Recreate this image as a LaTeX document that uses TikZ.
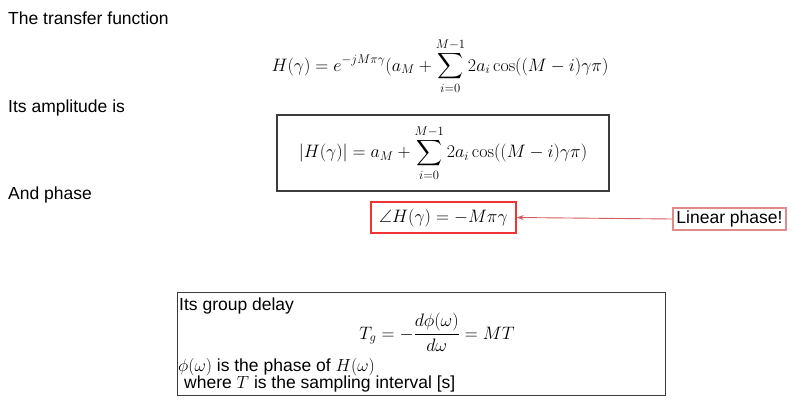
\RequirePackage{fix-cm}
\documentclass[tikz,border=0pt]{standalone}
\usepackage{amsmath, amssymb}
\usepackage[no-math]{fontspec}
\setmainfont{Liberation Sans}
\usepackage{tikz}
\usetikzlibrary{arrows.meta}
\definecolor{boxred}{HTML}{F03434}
\definecolor{pinkred}{HTML}{E28A8A}
\definecolor{arrowred}{HTML}{D35C5C}
\definecolor{boxgray}{HTML}{3C3C3C}
\tikzset{
  txt/.style={inner sep=0pt, font=\fontsize{17.5}{21}\selectfont},
  eqn/.style={inner sep=0pt, font=\fontsize{18}{21}\selectfont},
  eqbox/.style={draw=boxgray, line width=1.3pt, inner sep=0pt, font=\fontsize{18}{21}\selectfont},
  redbox/.style={draw=boxred, line width=1.4pt, inner sep=0pt, font=\fontsize{18}{21}\selectfont},
  notebox/.style={draw=pinkred, line width=1.4pt, inner sep=0pt, font=\fontsize{17.5}{21}\selectfont},
}
\begin{document}
\begin{tikzpicture}[x=1pt, y=-1pt]
    \useasboundingbox (0,0) rectangle (795,416);

    \node[txt, anchor=base west] (tf) at (8,24) {The transfer function};
    \node[eqn, anchor=base] (H) at (440,71)
        {$\displaystyle H(\gamma)=e^{-jM\pi\gamma}(a_M+\sum_{i=0}^{M-1}2a_i\cos((M-i)\gamma\pi)$};

    \node[txt, anchor=base west] (amp) at (8,112) {Its amplitude is};
    \node[eqbox, minimum width=332pt, minimum height=76pt] (absH) at (443,153)
        {$\displaystyle |H(\gamma)|=a_M+\sum_{i=0}^{M-1}2a_i\cos((M-i)\gamma\pi)$};

    \node[txt, anchor=base west] (ph) at (8,199) {And phase};
    \node[redbox, minimum width=145pt, minimum height=31pt] (angH) at (443.5,217.5)
        {$\angle H(\gamma)=-M\pi\gamma$};
    \node[notebox, minimum width=113pt, minimum height=22pt] (lin) at (729.5,219) {Linear phase!};

    \draw[arrowred, line width=0.9pt, -{Stealth[length=7pt, width=5pt]}] (lin.west) -- (angH.east);

    \node[draw=boxgray, line width=1pt, minimum width=488pt, minimum height=103pt] (gd) at (421,343.5) {};
    \node[txt, anchor=base west] (gdt) at (179,310) {Its group delay};
    \node[eqn, anchor=base] (Tg) at (437,339)
        {$\displaystyle T_g=-\frac{d\phi(\omega)}{d\omega}=MT$};
    \node[txt, anchor=base west] (phi) at (178,371) {$\phi(\omega)$ is the phase of $H(\omega)$};
    \node[txt, anchor=base west] (smp) at (184,388) {where $T$ is the sampling interval [s]};
\end{tikzpicture}
\end{document}
